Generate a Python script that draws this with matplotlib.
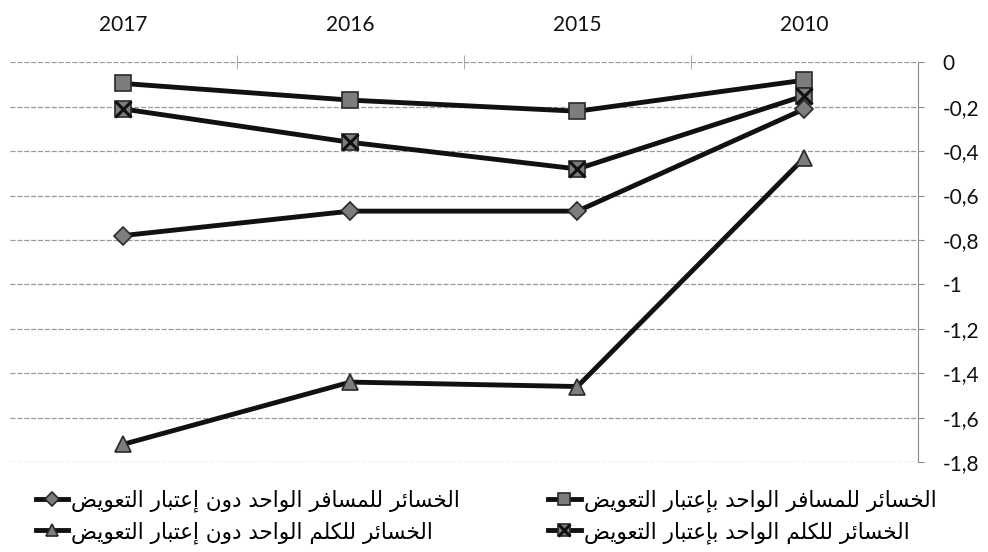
import unicodedata
import matplotlib
matplotlib.use('Agg')
import matplotlib.pyplot as plt
from matplotlib.ticker import FixedLocator, FuncFormatter
from matplotlib.legend_handler import HandlerTuple

# data (categories run right-to-left as in the original)
years = ['2017', '2016', '2015', '2010']
pass_with = [-0.095, -0.17, -0.22, -0.08]      # square
pass_without = [-0.78, -0.67, -0.67, -0.21]    # diamond
km_with = [-0.21, -0.36, -0.48, -0.15]         # square with x
km_without = [-1.72, -1.44, -1.46, -0.43]      # triangle

lbl_pass_with = 'الخسائر للمسافر الواحد بإعتبار التعويض'
lbl_pass_without = 'الخسائر للمسافر الواحد دون إعتبار التعويض'
lbl_km_with = 'الخسائر للكلم الواحد بإعتبار التعويض'
lbl_km_without = 'الخسائر للكلم الواحد دون إعتبار التعويض'


def _form(ch, form):
    try:
        return unicodedata.lookup(unicodedata.name(ch) + ' ' + form + ' FORM')
    except (KeyError, ValueError):
        return None


def _is_letter(ch):
    return ch != '' and unicodedata.name(ch, '').startswith('ARABIC LETTER') and _form(ch, 'ISOLATED') is not None


def _dual(ch):
    return _is_letter(ch) and _form(ch, 'INITIAL') is not None


def shape(text):
    # matplotlib has no arabic shaping, so pick presentation forms and reverse
    out = []
    for i, ch in enumerate(text):
        if not _is_letter(ch):
            out.append(ch)
            continue
        prev = text[i - 1] if i > 0 else ''
        nxt = text[i + 1] if i + 1 < len(text) else ''
        to_prev = _dual(prev)
        to_next = _dual(ch) and _is_letter(nxt)
        if to_prev and to_next:
            f = 'MEDIAL'
        elif to_prev:
            f = 'FINAL'
        elif to_next:
            f = 'INITIAL'
        else:
            f = 'ISOLATED'
        out.append(_form(ch, f) or ch)
    return ''.join(out)[::-1]


x = list(range(len(years)))
line_kw = dict(color='#111111', lw=3.5, mec='#2a2a2a', mfc='#7d7d7d', mew=1.2)

fig = plt.figure(figsize=(9.88, 5.52), dpi=100)
fig.patch.set_facecolor('white')
ax = fig.add_axes([0.010, 0.163, 0.919, 0.724])

l_sq, = ax.plot(x, pass_with, marker='s', ms=12, zorder=3, **line_kw)
l_km, = ax.plot(x, km_with, marker='s', ms=12, zorder=4, **line_kw)
l_kx, = ax.plot(x, km_with, ls='none', marker='x', ms=11, mew=2.2, color='#111111', zorder=5)
l_di, = ax.plot(x, pass_without, marker='D', ms=9, zorder=6, **line_kw)
l_tr, = ax.plot(x, km_without, marker='^', ms=12, zorder=3, **line_kw)

ax.set_xlim(-0.5, len(years) - 0.5)
ax.set_ylim(-1.8, 0)

for s in ['left', 'top', 'bottom']:
    ax.spines[s].set_visible(False)
ax.spines['right'].set_color('#8c8c8c')
ax.spines['right'].set_linewidth(0.8)

ax.yaxis.tick_right()
ax.yaxis.set_major_locator(FixedLocator([-1.8 + 0.2 * i for i in range(10)]))


def comma_fmt(v, pos):
    v = round(v, 1)
    if abs(v) < 1e-9:
        return '0'
    return ('%g' % v).replace('.', ',')


ax.yaxis.set_major_formatter(FuncFormatter(comma_fmt))
ax.tick_params(axis='y', which='major', direction='out', length=4, color='#8c8c8c',
               pad=14, labelsize=15, labelfontfamily='Lato', labelcolor='#111111')
ax.grid(axis='y', color='#9a9a9a', lw=0.9, ls=(0, (4, 1.5)))
ax.set_axisbelow(True)

ax.xaxis.tick_top()
ax.set_xticks(x)
ax.set_xticklabels(years)
ax.set_xticks([i + 0.5 for i in x[:-1]], minor=True)
ax.tick_params(axis='x', which='major', length=0, pad=20, labelsize=15,
               labelfontfamily='Lato', labelcolor='#111111')
ax.tick_params(axis='x', which='minor', direction='inout', length=10, color='#9a9a9a')

handles = [l_di, l_tr, l_sq, (l_km, l_kx)]
labels = [shape(lbl_pass_without), shape(lbl_km_without),
          shape(lbl_pass_with), shape(lbl_km_with)]
fig.legend(handles, labels, ncol=2, loc='center', bbox_to_anchor=(0.492, 0.064),
           frameon=False, prop={'family': 'DejaVu Sans', 'size': 15.5},
           handlelength=1.5, handletextpad=0.15, columnspacing=4.1, labelspacing=0.4,
           borderpad=0.2, markerscale=0.75, handler_map={tuple: HandlerTuple(ndivide=1)})

fig.savefig('out.png', dpi=100, facecolor='white')
